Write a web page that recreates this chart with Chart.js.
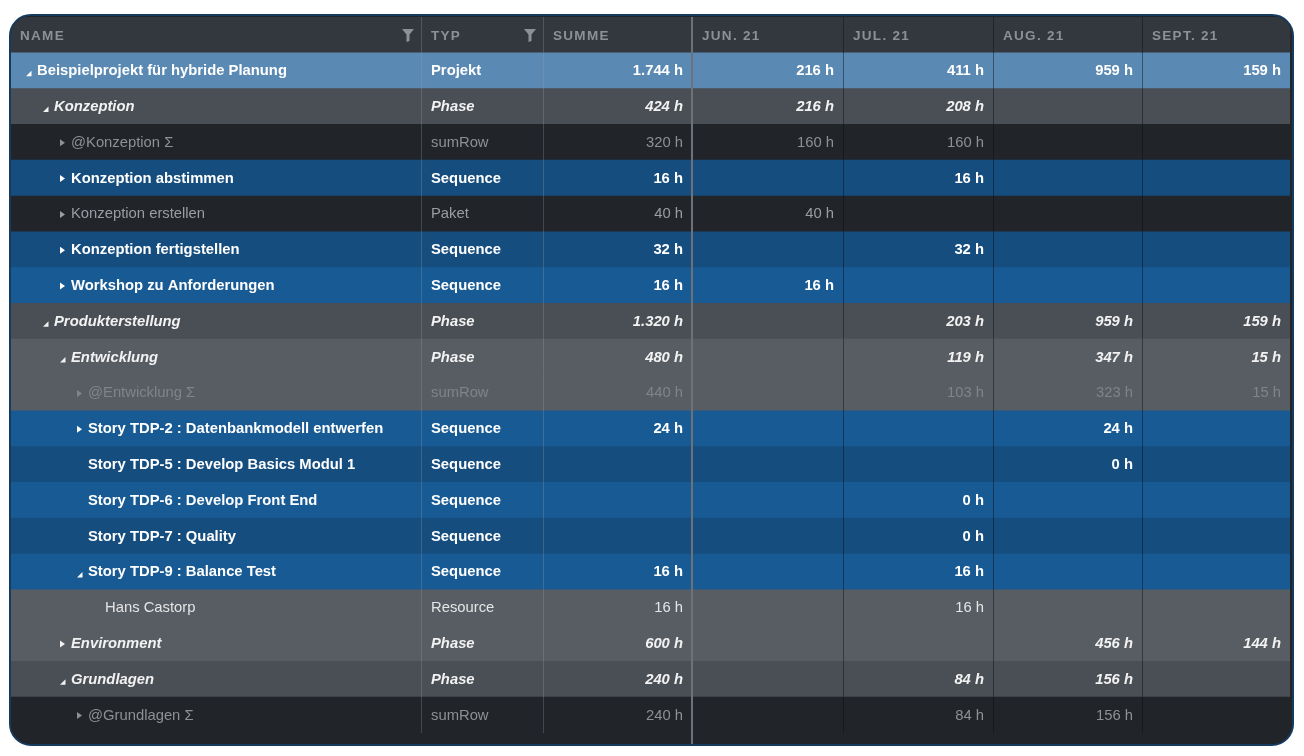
<!DOCTYPE html>
<html>
<head>
<meta charset="utf-8">
<script src="https://cdn.jsdelivr.net/npm/chart.js@4.4.1/dist/chart.umd.min.js"></script>
<style>
  html, body { margin: 0; padding: 0; background: #ffffff; }
  #frame {
    position: absolute; left: 9px; top: 14px;
    width: 1281px; height: 728px;
    border: 2px solid #173a5f; border-radius: 22px;
    background: #212428; overflow: hidden;
  }
  #wrap { position: absolute; left: 0; top: 1px; width: 1279px; height: 727px; }
</style>
</head>
<body>
<div id="frame"><div id="wrap"><canvas id="planChart"></canvas></div></div>
<script>
// table data
const headerLabels = ['NAME', 'TYP', 'SUMME', 'JUN. 21', 'JUL. 21', 'AUG. 21', 'SEPT. 21'];
const rowNames = [
  'Beispielprojekt für hybride Planung', 'Konzeption', '@Konzeption Σ', 'Konzeption abstimmen',
  'Konzeption erstellen', 'Konzeption fertigstellen', 'Workshop zu Anforderungen', 'Produkterstellung',
  'Entwicklung', '@Entwicklung Σ', 'Story TDP-2 : Datenbankmodell entwerfen', 'Story TDP-5 : Develop Basics Modul 1',
  'Story TDP-6 : Develop Front End', 'Story TDP-7 : Quality', 'Story TDP-9 : Balance Test', 'Hans Castorp',
  'Environment', 'Grundlagen', '@Grundlagen Σ'
];
const rowTypes = [
  'Projekt', 'Phase', 'sumRow', 'Sequence', 'Paket', 'Sequence', 'Sequence', 'Phase',
  'Phase', 'sumRow', 'Sequence', 'Sequence', 'Sequence', 'Sequence', 'Sequence', 'Resource',
  'Phase', 'Phase', 'sumRow'
];
const rowLevels = [0, 1, 2, 2, 2, 2, 2, 1, 2, 3, 3, 3, 3, 3, 3, 4, 2, 2, 3];
const rowTree = ['open', 'open', 'closed', 'closed', 'closed', 'closed', 'closed', 'open',
  'open', 'closed', 'closed', '', '', '', 'open', '', 'closed', 'open', 'closed'];
const sumHours  = [1744, 424, 320, 16, 40, 32, 16, 1320, 480, 440, 24, null, null, null, 16, 16, 600, 240, 240];
const junHours  = [216, 216, 160, null, 40, null, 16, null, null, null, null, null, null, null, null, null, null, null, null];
const julHours  = [411, 208, 160, 16, null, 32, null, 203, 119, 103, null, null, 0, 0, 16, 16, null, 84, 84];
const augHours  = [959, null, null, null, null, null, null, 959, 347, 323, 24, 0, null, null, null, null, 456, 156, 156];
const septHours = [159, null, null, null, null, null, null, 159, 15, 15, null, null, null, null, null, null, 144, null, null];

// layout and style
const colEdges = [0, 410, 532, 681, 832, 982, 1131, 1279];
const headerFill = '#33383f';
const rowFill = [
  '#5a89b3', '#4a4e55', '#212428', '#154d7f', '#212428', '#154d7f', '#185a94', '#4a4e55',
  '#585d64', '#585d64', '#185a94', '#154d7f', '#185a94', '#154d7f', '#185a94', '#585d64',
  '#585d64', '#4a4e55', '#212428'
];
const typeStyle = {
  Projekt:  { font: 'bold', color: '#ffffff' },
  Phase:    { font: 'italic bold', color: '#f2f2f2' },
  sumRow:   { font: 'normal', color: '#8d9196' },
  Sequence: { font: 'bold', color: '#ffffff' },
  Paket:    { font: 'normal', color: '#9a9ea3' },
  Resource: { font: 'normal', color: '#e4e5e6' }
};
const fadedText = '#7f848a';
const family = '"Liberation Sans", Arial, Helvetica, sans-serif';

const monthCols = [junHours, julHours, augHours, septHours];
const fmt = v => String(v).replace(/\B(?=(\d{3})+(?!\d))/g, '.') + ' h';
const rowLabels = ['header'].concat(rowNames);
const fills = [headerFill].concat(rowFill);

const datasets = headerLabels.map((h, c) => ({
  label: h,
  data: rowLabels.map(() => [colEdges[c], colEdges[c + 1]]),
  backgroundColor: fills,
  borderWidth: 0,
  barPercentage: 1,
  categoryPercentage: 1,
  grouped: false
}));

function funnel(ctx, cx, cy) {
  ctx.beginPath();
  ctx.moveTo(cx - 6, cy - 6);
  ctx.lineTo(cx + 6, cy - 6);
  ctx.lineTo(cx + 1.5, cy - 0.5);
  ctx.lineTo(cx + 1.5, cy + 6);
  ctx.lineTo(cx - 1.5, cy + 7);
  ctx.lineTo(cx - 1.5, cy - 0.5);
  ctx.closePath();
  ctx.fill();
}

const tablePlugin = {
  id: 'tableText',
  afterDatasetsDraw(chart) {
    const { ctx, scales: { x, y }, chartArea } = chart;
    const top = chartArea.top, bottom = chartArea.bottom;
    ctx.save();

    // column separators
    colEdges.slice(1, -1).forEach((e, i) => {
      const px = Math.round(x.getPixelForValue(e));
      ctx.beginPath();
      if (i === 2) {
        ctx.strokeStyle = '#6d7279';
        ctx.lineWidth = 2;
        ctx.moveTo(px, top);
        ctx.lineTo(px, chart.height);
      } else if (i < 2) {
        ctx.strokeStyle = 'rgba(150,158,168,0.30)';
        ctx.lineWidth = 1;
        ctx.moveTo(px + 0.5, top);
        ctx.lineTo(px + 0.5, bottom);
      } else {
        ctx.strokeStyle = 'rgba(10,14,20,0.45)';
        ctx.lineWidth = 1;
        ctx.moveTo(px + 0.5, top);
        ctx.lineTo(px + 0.5, bottom);
      }
      ctx.stroke();
    });

    // header
    const hy = y.getPixelForValue(0);
    ctx.fillStyle = '#8c9197';
    ctx.font = 'bold 13.5px ' + family;
    ctx.textBaseline = 'middle';
    ctx.textAlign = 'left';
    if ('letterSpacing' in ctx) ctx.letterSpacing = '1.3px';
    headerLabels.forEach((h, c) => {
      ctx.fillText(h, x.getPixelForValue(colEdges[c]) + (c === 0 ? 9 : 10), hy + 1);
    });
    if ('letterSpacing' in ctx) ctx.letterSpacing = '0px';
    funnel(ctx, x.getPixelForValue(colEdges[1]) - 13, hy);
    funnel(ctx, x.getPixelForValue(colEdges[2]) - 13, hy);

    // rows
    rowNames.forEach((name, r) => {
      const cy = y.getPixelForValue(r + 1) + 0.5;
      const st = typeStyle[rowTypes[r]];
      const color = (rowTypes[r] === 'sumRow' && rowFill[r] !== '#212428') ? fadedText : st.color;
      ctx.fillStyle = color;
      ctx.font = st.font + ' 14.8px ' + family;
      ctx.textAlign = 'left';
      const tx = x.getPixelForValue(colEdges[0]) + 26 + 17 * rowLevels[r];
      ctx.fillText(name, tx, cy);

      // tree marker
      ctx.beginPath();
      if (rowTree[r] === 'open') {
        ctx.moveTo(tx - 5.5, cy - 0.5);
        ctx.lineTo(tx - 5.5, cy + 5);
        ctx.lineTo(tx - 11, cy + 5);
        ctx.closePath();
        ctx.fill();
      } else if (rowTree[r] === 'closed') {
        ctx.moveTo(tx - 11, cy - 3.5);
        ctx.lineTo(tx - 6, cy);
        ctx.lineTo(tx - 11, cy + 3.5);
        ctx.closePath();
        ctx.fill();
      }

      ctx.fillText(rowTypes[r], x.getPixelForValue(colEdges[1]) + 10, cy);

      ctx.textAlign = 'right';
      [sumHours].concat(monthCols).forEach((col, k) => {
        const v = col[r];
        if (v === null || v === undefined) return;
        ctx.fillText(fmt(v), x.getPixelForValue(colEdges[k + 3]) - 9, cy);
      });
    });
    ctx.restore();
  }
};

new Chart(document.getElementById('planChart'), {
  type: 'bar',
  data: { labels: rowLabels, datasets: datasets },
  options: {
    indexAxis: 'y',
    responsive: true,
    maintainAspectRatio: false,
    animation: false,
    layout: { padding: { left: 0, right: 0, top: 0, bottom: 11 } },
    scales: {
      x: { type: 'linear', min: colEdges[0], max: colEdges[colEdges.length - 1], display: false },
      y: { type: 'category', display: false, offset: true }
    },
    plugins: {
      legend: { display: false },
      tooltip: { enabled: false }
    }
  },
  plugins: [tablePlugin]
});
</script>
</body>
</html>
